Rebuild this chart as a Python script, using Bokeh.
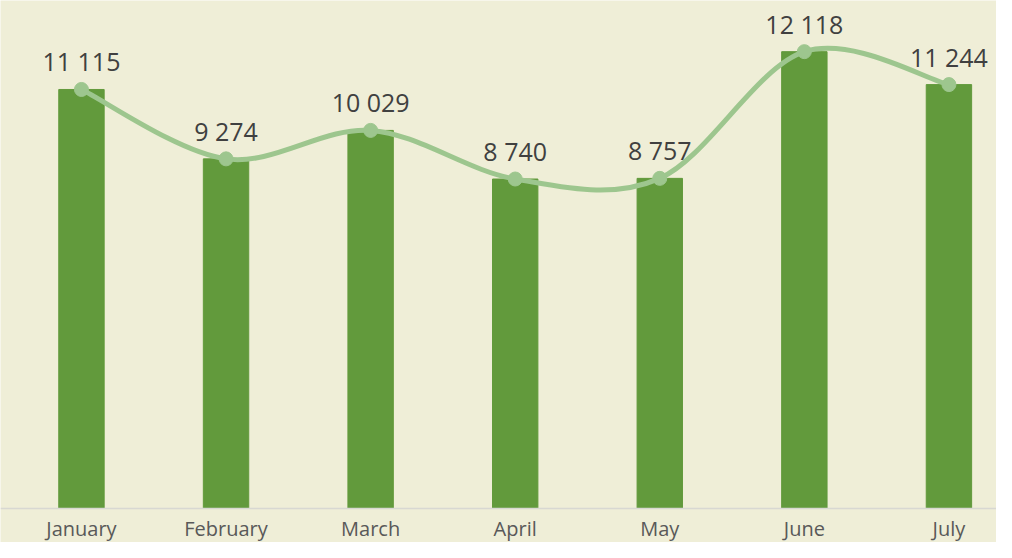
from bokeh.plotting import figure
from bokeh.models import Range1d, Span, ColumnDataSource
from bokeh.core.properties import value
from bokeh.embed import file_html
from bokeh.resources import INLINE

# ---- data ----
months = ["January", "February", "March", "April", "May", "June", "July"]
sales = [11115, 9274, 10029, 8740, 8757, 12118, 11244]
sales_labels = ["11 115", "9 274", "10 029", "8 740", "8 757", "12 118", "11 244"]

# ---- style ----
BG = "#EFEED7"
BAR = "#629A3C"
LINE = "#9DC68E"
LABEL = "#404040"
AXIS_TXT = "#595959"
FONT = "Open Sans"

xs = list(range(len(months)))

p = figure(width=996, height=542, output_backend="svg", toolbar_location=None,
           x_range=Range1d(-0.560, 6.329), y_range=Range1d(-902, 13475),
           min_border=0, min_border_left=0, min_border_right=0,
           min_border_top=0, min_border_bottom=0)
p.background_fill_color = BG
p.border_fill_color = BG
p.outline_line_color = None
p.grid.visible = False
p.axis.visible = False

src = ColumnDataSource(dict(x=xs, month=months, y=sales, lab=sales_labels))

# bars
p.vbar(x="x", top="y", bottom=0, width=0.314, source=src,
       fill_color=BAR, line_color=BAR)

# axis line at zero
p.add_layout(Span(location=0, dimension="width", line_color="#D8D8D2", line_width=1.5))

# smoothed line (Catmull-Rom style Bezier between data points)
n = len(sales)
x0, y0, x1, y1, cx0, cy0, cx1, cy1 = ([] for _ in range(8))
for i in range(n - 1):
    im1 = max(i - 1, 0)
    ip2 = min(i + 2, n - 1)
    x0.append(xs[i]); y0.append(sales[i])
    x1.append(xs[i + 1]); y1.append(sales[i + 1])
    cx0.append(xs[i] + (xs[i + 1] - xs[im1]) / 6)
    cy0.append(sales[i] + (sales[i + 1] - sales[im1]) / 6)
    cx1.append(xs[i + 1] - (xs[ip2] - xs[i]) / 6)
    cy1.append(sales[i + 1] - (sales[ip2] - sales[i]) / 6)
p.bezier(x0=x0, y0=y0, x1=x1, y1=y1, cx0=cx0, cy0=cy0, cx1=cx1, cy1=cy1,
         line_color=LINE, line_width=5, line_cap="round")

p.scatter(x="x", y="y", source=src, size=14, fill_color=LINE, line_color=LINE)

# data labels
p.text(x="x", y="y", text="lab", source=src, text_align="center",
       text_baseline="alphabetic", y_offset=-28, text_color=LABEL,
       text_font=value(FONT), text_font_size="25px")

# category labels
p.text(x="x", y=0, text="month", source=src, text_align="center",
       text_baseline="alphabetic", y_offset=20, text_color=AXIS_TXT,
       text_font=value(FONT), text_font_size="20px")

open("out.html", "w").write(file_html(p, INLINE))
